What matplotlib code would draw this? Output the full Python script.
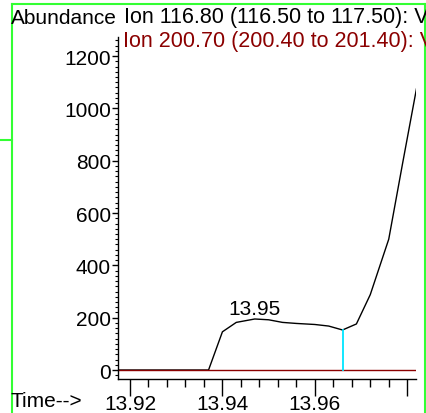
import matplotlib.pyplot as plt
from matplotlib.ticker import FixedLocator, MultipleLocator
from matplotlib.lines import Line2D

plt.rcParams['font.family'] = ['Liberation Sans', 'DejaVu Sans']

# ion 116.80 trace
time_116 = [13.9174, 13.924, 13.930, 13.934, 13.937, 13.940, 13.943, 13.947, 13.950,
            13.953, 13.956, 13.960, 13.963, 13.966, 13.969, 13.972, 13.976, 13.979, 13.982]
abund_116 = [0, 0, 0, 0, 0, 146, 182, 195, 192,
             182, 178, 174, 168, 153, 176, 288, 500, 790, 1075]

# ion 200.70 trace (flat)
time_200 = [13.9174, 13.982]
abund_200 = [0, 0]

peak_label = '13.95'
peak_time = 13.947
peak_end = 13.966
peak_end_value = 153

legend_1 = 'Ion 116.80 (116.50 to 117.50): V'
legend_2 = 'Ion 200.70 (200.40 to 201.40): V'
xticks = [13.92, 13.94, 13.96, 13.98]
xtick_labels = ['13.92', '13.94', '13.96', '']
yticks = [0, 200, 400, 600, 800, 1000, 1200]

W, H = 427, 414
fig = plt.figure(figsize=(W / 100, H / 100), dpi=100)
ax = fig.add_axes([118 / W, 1 - 380 / H, (416 - 118) / W, (380 - 38) / H])

red = '#8b0000'
fs = 15
ax.plot(time_116, abund_116, color='black', lw=1.0)
ax.plot(time_200, abund_200, color=red, lw=1.0)
ax.plot([peak_end, peak_end], [0, peak_end_value], color='#00e5ff', lw=1.3)
ax.text(peak_time, 214, peak_label, ha='center', va='baseline', fontsize=fs)

ax.set_xlim(13.9174, 13.9819)
ax.set_ylim(-34.4, 1273)

ax.xaxis.set_major_locator(FixedLocator(xticks))
ax.set_xticklabels(xtick_labels)
ax.xaxis.set_minor_locator(MultipleLocator(0.004))
ax.set_yticks(yticks)
ax.yaxis.set_minor_locator(MultipleLocator(20))
ax.tick_params(axis='x', which='major', length=12, width=1, direction='out', labelsize=fs, pad=-1.2)
ax.tick_params(axis='x', which='minor', length=6, width=1, direction='out')
ax.tick_params(axis='y', which='major', length=4, width=1, direction='out', labelsize=fs, pad=1)
ax.tick_params(axis='y', which='minor', length=2, width=0.8, direction='out')

for s in ['top', 'right']:
    ax.spines[s].set_visible(False)
for s in ['left', 'bottom']:
    ax.spines[s].set_linewidth(1.0)

# header texts
fig.text(11 / W, 1 - 18 / H, 'Abundance', fontsize=fs, va='center', ha='left')
fig.text(124 / W, 1 - 18 / H, legend_1, fontsize=15.5, va='center', ha='left', color='black')
fig.text(123 / W, 1 - 41.5 / H, legend_2, fontsize=15.5, va='center', ha='left', color=red)
fig.text(11 / W, 1 - 402 / H, 'Time-->', fontsize=fs, va='center', ha='left')

# green frame
green = '#33ff33'
for xs, ys in [([12, 425], [5, 5]), ([12, 12], [5, 414]), ([425, 425], [5, 414]), ([0, 12], [140.5, 140.5])]:
    fig.add_artist(Line2D([x / W for x in xs], [1 - y / H for y in ys], color=green, lw=1.5))

fig.savefig('out.png', dpi=100)
